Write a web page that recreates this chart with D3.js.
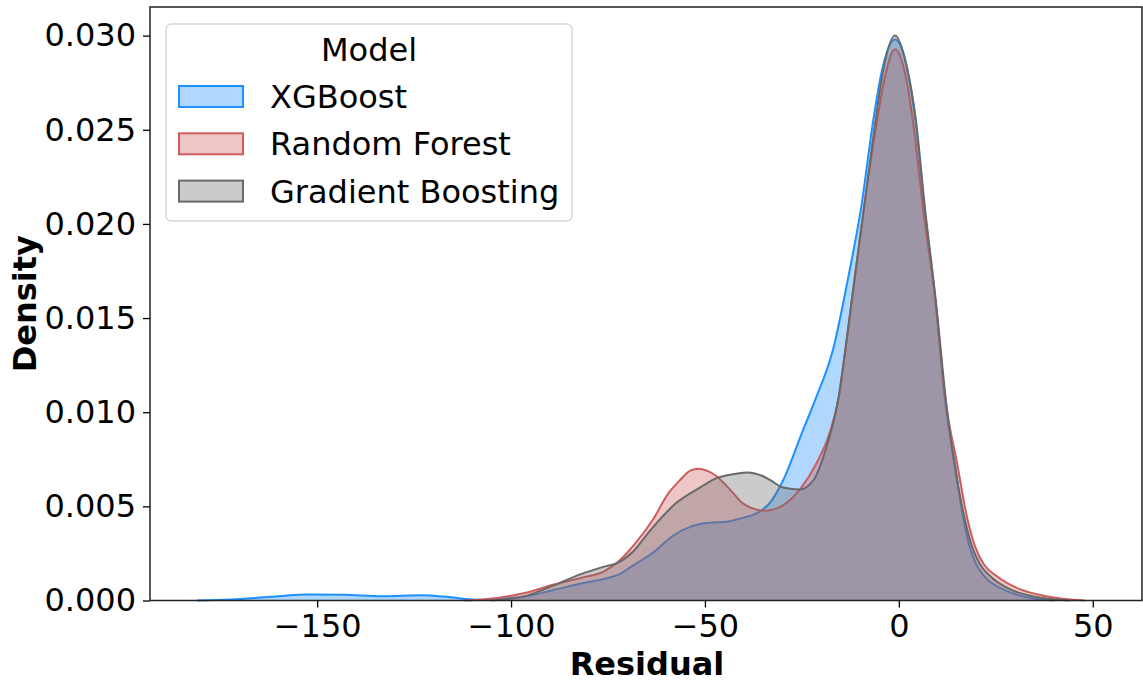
<!DOCTYPE html>
<html>
<head>
<meta charset="utf-8">
<script src="https://cdn.jsdelivr.net/npm/d3@7"></script>
<style>
  html, body { margin: 0; padding: 0; background: #fff; }
  svg { display: block; font-family: "DejaVu Sans", sans-serif; }
</style>
</head>
<body>
<svg id="chart" width="1143" height="684"></svg>
<script>
// Residual density estimates per model: [residual, density]
const xgboost = [
  [-181, 0], [-172, 0.00005], [-162, 0.0002], [-152, 0.00032], [-143, 0.0003],
  [-133, 0.00023], [-123, 0.00028], [-116, 0.00018], [-109, 0.00004], [-103, 0.0001],
  [-97, 0.0002], [-89, 0.00056], [-82, 0.0009], [-76, 0.00115], [-72, 0.0014], [-69, 0.0018],
  [-63, 0.0026], [-58.5, 0.0034], [-54, 0.0039], [-50, 0.0041], [-44, 0.0042], [-40, 0.0044],
  [-37, 0.0046], [-33.2, 0.0052], [-29.8, 0.0064], [-25, 0.0089], [-21.5, 0.0107],
  [-17, 0.0133], [-13.2, 0.017], [-9.7, 0.0209], [-6.6, 0.0255], [-4.3, 0.0282],
  [-1, 0.0298], [2.2, 0.0282], [4.3, 0.0255], [6.6, 0.0209], [9.4, 0.016],
  [11.9, 0.0107], [14.5, 0.0072], [16.5, 0.0045], [18.2, 0.0029], [20, 0.0019], [22, 0.0013],
  [26.8, 0.0006], [31.9, 0.00023], [40, 0]
];
const randomForest = [
  [-112, 0], [-106, 0.00008], [-100, 0.00025], [-97, 0.00037], [-89, 0.00085],
  [-82, 0.0012], [-76, 0.00155], [-72.7, 0.0020], [-68.5, 0.0029], [-63.4, 0.0043],
  [-59.4, 0.0057], [-56.4, 0.0064], [-53.8, 0.0069], [-51.7, 0.0070], [-49.5, 0.0069],
  [-47, 0.0066], [-44.5, 0.0061], [-42.7, 0.0057], [-40.5, 0.0052], [-38.4, 0.00495],
  [-34.5, 0.00477], [-29.8, 0.00507], [-25.5, 0.0059], [-21.2, 0.0073], [-17.7, 0.009],
  [-15.6, 0.0107], [-13.8, 0.0133], [-12.1, 0.016], [-8.7, 0.0213], [-5.6, 0.0255],
  [-3.8, 0.0276], [-1, 0.02927], [2, 0.0276], [3.6, 0.0255], [6.5, 0.0204],
  [9.4, 0.016], [12, 0.0107], [15.1, 0.0072], [17.5, 0.0045], [19.6, 0.0029], [22, 0.0019],
  [25.2, 0.0013], [31.2, 0.0006], [38, 0.00023], [48, 0]
];
const gradientBoosting = [
  [-105, 0], [-100, 0.0001], [-97, 0.0002], [-89, 0.0008], [-82, 0.0014],
  [-76, 0.0018], [-72.5, 0.0020], [-68.5, 0.0026], [-64.2, 0.0037], [-57.3, 0.0052],
  [-51.3, 0.006], [-47, 0.0065], [-43, 0.0067], [-39.2, 0.0068], [-35, 0.0066],
  [-33.2, 0.0064], [-29.8, 0.006], [-25.5, 0.0059], [-22, 0.0064], [-18.6, 0.0082],
  [-15.6, 0.0107], [-13.8, 0.0133], [-12.1, 0.016], [-8.7, 0.0213], [-6, 0.0255],
  [-4, 0.0282], [-1, 0.030], [2.2, 0.0282], [4.4, 0.0255], [6.8, 0.0207],
  [9.6, 0.0158], [12.1, 0.0107], [14.2, 0.0074], [16.8, 0.0045], [18.8, 0.0029], [21, 0.0019],
  [23.5, 0.0013], [28.6, 0.0006], [34.5, 0.00023], [44, 0]
];

const modelNames = ["XGBoost", "Random Forest", "Gradient Boosting"];
const modelColors = ["#1e90ff", "#cd5c5c", "#696969"];
const xTicks = [-150, -100, -50, 0, 50];
const yTicks = [0, 0.005, 0.010, 0.015, 0.020, 0.025, 0.030];

const series = [xgboost, randomForest, gradientBoosting];

const svg = d3.select("#chart");
const plot = { left: 150, right: 1142, top: 7, bottom: 600.5 };

const x = d3.scaleLinear().domain([-193.1, 62.7]).range([plot.left, plot.right]);
const y = d3.scaleLinear().domain([0, 0.03152]).range([plot.bottom, plot.top]);

const fillAlpha = 0.35;
const fontSize = "32px";

// density areas
const area = d3.area()
  .x(d => x(d[0]))
  .y0(y(0))
  .y1(d => y(d[1]))
  .curve(d3.curveMonotoneX);

const line = d3.line()
  .x(d => x(d[0]))
  .y(d => y(d[1]))
  .curve(d3.curveMonotoneX);

const layers = svg.append("g");
series.forEach((s, i) => {
  const g = layers.append("g");
  g.append("path")
    .attr("d", area(s))
    .attr("fill", modelColors[i])
    .attr("fill-opacity", fillAlpha);
  g.append("path")
    .attr("d", line(s))
    .attr("fill", "none")
    .attr("stroke", modelColors[i])
    .attr("stroke-width", 2);
});

// axes
const fmtX = v => String(v).replace("-", "\u2212");
const xAxis = d3.axisBottom(x).tickValues(xTicks).tickFormat(fmtX).tickSize(7).tickPadding(7).tickSizeOuter(0);
const yAxis = d3.axisLeft(y).tickValues(yTicks).tickFormat(d3.format(".3f")).tickSize(7).tickPadding(7).tickSizeOuter(0);

const gx = svg.append("g").attr("transform", `translate(0,${plot.bottom})`).call(xAxis);
const gy = svg.append("g").attr("transform", `translate(${plot.left},0)`).call(yAxis);
[gx, gy].forEach(g => {
  g.select(".domain").remove();
  g.selectAll(".tick line").attr("stroke", "#000").attr("stroke-width", 1.3);
  g.selectAll(".tick text").attr("fill", "#000").style("font-size", fontSize).style("font-family", "DejaVu Sans");
});

// frame
svg.append("rect")
  .attr("x", plot.left).attr("y", plot.top)
  .attr("width", plot.right - plot.left).attr("height", plot.bottom - plot.top)
  .attr("fill", "none").attr("stroke", "#222").attr("stroke-width", 1.5);

// axis titles
svg.append("text")
  .attr("x", (plot.left + plot.right) / 2 + 1).attr("y", 675)
  .attr("text-anchor", "middle")
  .style("font-size", fontSize).style("font-weight", "bold")
  .text("Residual");

svg.append("text")
  .attr("transform", `translate(36,${(plot.top + plot.bottom) / 2}) rotate(-90)`)
  .attr("text-anchor", "middle")
  .style("font-size", fontSize).style("font-weight", "bold")
  .text("Density");

// legend
const legend = svg.append("g");
legend.append("rect")
  .attr("x", 166).attr("y", 24).attr("width", 406).attr("height", 197)
  .attr("rx", 5).attr("fill", "#fff").attr("fill-opacity", 0.8)
  .attr("stroke", "#d8d8d8").attr("stroke-width", 1.5);
legend.append("text")
  .attr("x", 369).attr("y", 61)
  .attr("text-anchor", "middle")
  .style("font-size", fontSize)
  .text("Model");
modelNames.forEach((name, i) => {
  const cy = 97 + i * 47.3;
  legend.append("rect")
    .attr("x", 179).attr("y", cy - 11).attr("width", 64).attr("height", 21)
    .attr("fill", modelColors[i]).attr("fill-opacity", fillAlpha)
    .attr("stroke", modelColors[i]).attr("stroke-width", 2);
  legend.append("text")
    .attr("x", 270).attr("y", cy + 11)
    .style("font-size", fontSize)
    .text(name);
});
</script>
</body>
</html>
